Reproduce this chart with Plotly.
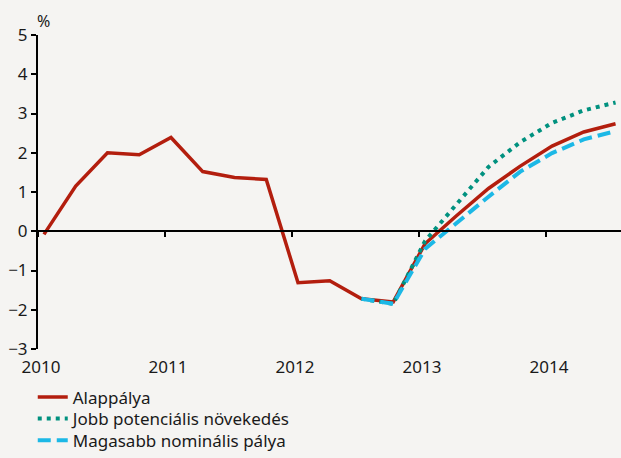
import plotly.graph_objects as go

# Data (quarterly, 2010 Q1 .. 2014 Q3)
years = [2010, 2011, 2012, 2013, 2014]
year_labels = ["2010", "2011", "2012", "2013", "2014"]
quarter_offset = 0.047  # points sit slightly after the quarter start
base_start_year = 2010
alappalya = [-0.08, 1.15, 2.0, 1.95, 2.39, 1.52, 1.37, 1.32, -1.31, -1.26,
             -1.72, -1.80, -0.32, 0.40, 1.09, 1.66, 2.17, 2.53, 2.74]
potencialis = [-1.72, -1.85, -0.25, 0.70, 1.64, 2.27, 2.76, 3.08, 3.28]
nominalis = [-1.72, -1.85, -0.45, 0.22, 0.88, 1.52, 1.99, 2.34, 2.55]
scen_start_index = 10  # 2012 Q3
y_ticks = [-3, -2, -1, 0, 1, 2, 3, 4, 5]

x_all = [base_start_year + i / 4 + quarter_offset for i in range(len(alappalya))]
x_scen = x_all[scen_start_index:]

FONT = "Noto Sans"
RED = "#b31e0e"
TEAL = "#00917f"
BLUE = "#1cb8e6"
BG = "#f5f4f2"

fig = go.Figure()
fig.add_trace(go.Scatter(x=x_all, y=alappalya, mode="lines", name="Alappálya",
                         legend="legend",
                         line=dict(color=RED, width=3.5)))
fig.add_trace(go.Scatter(x=x_scen, y=potencialis, mode="lines", name="Jobb potenciális növekedés",
                         legend="legend2",
                         line=dict(color=TEAL, width=4, dash="4px,5px")))
fig.add_trace(go.Scatter(x=x_scen, y=nominalis, mode="lines", name="Magasabb nominális pálya",
                         legend="legend3",
                         line=dict(color=BLUE, width=4, dash="13px,6px")))
# helper trace to register the zero-line axis
fig.add_trace(go.Scatter(x=[None], y=[None], xaxis="x2", yaxis="y", showlegend=False,
                         hoverinfo="skip"))

xrange = [2010, 2014.59]
yrange = [-3, 5]

leg_common = dict(x=-0.009, xanchor="left", yanchor="middle",
                  bgcolor="rgba(0,0,0,0)", font=dict(size=17, family=FONT, color="#1a1a1a"),
                  itemwidth=30)

fig.update_layout(
    width=621, height=458,
    margin=dict(l=38, r=0, t=35, b=109, autoexpand=False),
    paper_bgcolor=BG, plot_bgcolor=BG,
    font=dict(family=FONT, size=17, color="#1a1a1a"),
    showlegend=True,
    legend=dict(y=-0.154, **leg_common),
    legend2=dict(y=-0.223, **leg_common),
    legend3=dict(y=-0.292, **leg_common),
    xaxis=dict(range=xrange, tickvals=years, ticktext=year_labels,
               showline=False, showgrid=False, zeroline=False, ticks="",
               ticklabelshift=3, ticklabelstandoff=6, tickfont=dict(size=17),
               automargin=False),
    xaxis2=dict(range=xrange, overlaying="x", anchor="free", position=3 / 8,
                side="bottom", tickvals=years, showticklabels=False,
                showline=True, linecolor="black", linewidth=2,
                ticks="outside", ticklen=5, tickwidth=2, tickcolor="black",
                showgrid=False, zeroline=False, automargin=False),
    yaxis=dict(range=yrange, tickvals=y_ticks, showline=True, linecolor="black",
               linewidth=2, ticks="outside", ticklen=5, tickwidth=2, tickcolor="black",
               showgrid=False, zeroline=False, tickfont=dict(size=17),
               automargin=False),
    annotations=[dict(text="%", xref="paper", yref="paper", x=0, y=1,
                      xanchor="left", yanchor="bottom", showarrow=False,
                      font=dict(size=16, family=FONT), yshift=1, xshift=-3)],
)

fig.write_html(
    "out.html",
    config={"displayModeBar": False},
    post_script="document.body.style.margin='0';document.body.style.background='%s';" % BG,
)
